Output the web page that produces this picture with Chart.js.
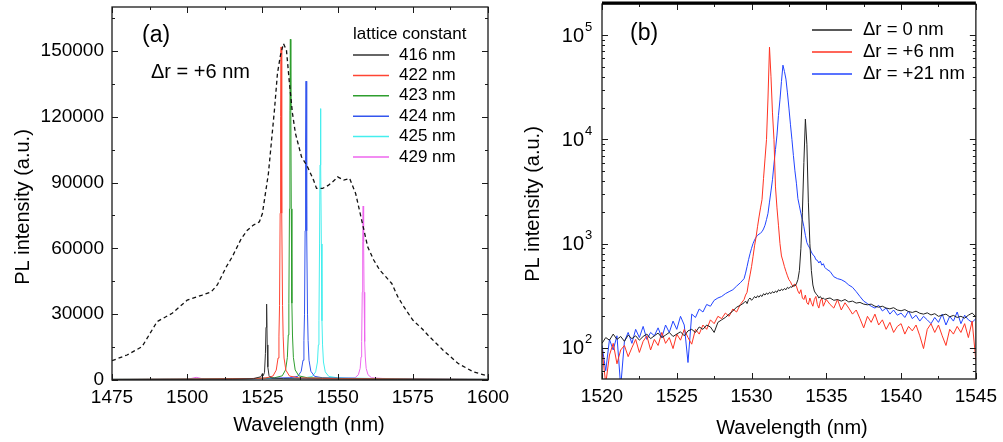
<!DOCTYPE html>
<html>
<head>
<meta charset="utf-8">
<script src="https://cdn.jsdelivr.net/npm/chart.js@4.4.1/dist/chart.umd.min.js"></script>
<style>
  body { margin: 0; background: #fff; }
  #wrap { position: relative; width: 1003px; height: 442px; }
  #chartA { position: absolute; left: 0; top: 0; }
  #chartB { position: absolute; left: 500px; top: 0; }
</style>
</head>
<body>
<div id="wrap">
  <canvas id="chartA" width="520" height="442"></canvas>
  <canvas id="chartB" width="503" height="442"></canvas>
</div>
<script>
// panel (a): broad PL spectrum (dashed) and cavity peaks for each lattice constant
const wlRef = [1475,1480,1485,1490,1495,1500,1505,1508,1510,1513,1515,1518,1520,1522,1524,1525,1527,1529,1530,1531,1532,1533,1534,1535,1536,1538,1540,1542,1543,1545,1547,1549,1550,1552,1554,1556,1558,1560,1562,1564,1566,1568,1570,1572,1575,1578,1580,1585,1590,1595,1600];
const plRef = [8800,11400,15200,26600,30400,36400,38700,40200,43300,51600,56200,64500,68300,70600,72100,75900,94100,123000,139700,148000,153300,150300,135100,121500,112300,101700,97200,91100,87300,87300,88800,91100,92600,91100,91900,85000,72900,60700,54700,50100,47100,44000,38000,33400,27300,23500,20500,13700,7600,3800,1800];

const wl416 = [1475,1500,1515,1522,1524.5,1525.0,1525.3,1525.7,1526.0,1526.2,1526.4,1526.6,1526.8,1527.2,1528,1532,1545,1570,1600];
const pl416 = [200,300,400,600,1500,3000,2000,3500,12000,24000,34600,16000,6000,2000,900,600,400,300,200];
const wl422 = [1475,1500,1520,1526,1528.5,1529.6,1530.2,1530.5,1530.7,1530.9,1531.05,1531.2,1531.35,1531.5,1531.7,1531.9,1532.2,1532.8,1534,1537,1550,1575,1600];
const pl422 = [300,400,600,900,1800,4500,10000,20000,34000,76000,120000,151800,120000,76000,34000,20000,10000,4500,1800,1000,600,400,300];
const wl423 = [1475,1500,1520,1529,1531.6,1532.7,1533.3,1533.6,1533.8,1534.0,1534.15,1534.3,1534.45,1534.6,1534.8,1535.0,1535.3,1535.9,1537.1,1540,1555,1575,1600];
const pl423 = [300,400,600,1000,1900,4600,10300,20500,35000,78000,123000,155300,123000,78000,35000,20500,10300,4600,1900,1000,600,400,300];
const wl424 = [1475,1500,1525,1534,1536.8,1537.9,1538.5,1538.8,1539.0,1539.2,1539.35,1539.5,1539.65,1539.8,1540.0,1540.2,1540.5,1541.1,1542.3,1545,1560,1580,1600];
const pl424 = [300,400,600,1000,1700,4000,9000,18000,30000,68000,108000,136200,108000,68000,30000,18000,9000,4000,1700,1000,600,400,300];
const wl425 = [1475,1500,1530,1539,1541.6,1542.7,1543.3,1543.6,1543.8,1544.0,1544.15,1544.3,1544.45,1544.6,1544.8,1545.0,1545.3,1545.9,1547.1,1550,1565,1585,1600];
const pl425 = [300,400,700,1000,1600,3700,8200,16000,27000,62000,98000,123700,98000,62000,27000,16000,8200,3700,1600,1000,600,400,300];
const wl429 = [1475,1500,1503,1506,1530,1550,1555.8,1556.9,1557.5,1557.8,1558.0,1558.2,1558.35,1558.5,1558.65,1558.8,1559.0,1559.2,1559.5,1560.1,1561.3,1565,1580,1600];
const pl429 = [200,300,1200,300,900,800,1000,2400,5300,10500,17500,40000,63000,79300,63000,40000,17500,10500,5300,2400,1000,700,400,200];

const xTicksA = [1475, 1500, 1525, 1550, 1575, 1600];
const xMinorA = [1487.5, 1512.5, 1537.5, 1562.5, 1587.5];
const yTicksA = [0, 30000, 60000, 90000, 120000, 150000];
const yMinorA = [15000, 45000, 75000, 105000, 135000, 165000];

// panel (b): log-scale spectra for three hole-radius shifts
const wlB = [1520,1520.25,1520.5,1520.75,1521,1521.25,1521.5,1521.75,1522,1522.25,1522.5,1522.75,1523,1523.25,1523.5,1523.75,1524,1524.25,1524.5,1524.75,1525,1525.25,1525.5,1525.75,1526,1526.25,1526.5,1526.75,1527,1527.25,1527.5,1527.75,1528,1528.25,1528.5,1528.75,1529,1529.25,
  1529.5,1529.6,1529.7,1529.8,1529.9,1530,1530.1,1530.2,1530.3,1530.4,1530.5,1530.6,1530.7,1530.8,1530.9,1531,1531.1,1531.2,1531.3,1531.4,1531.5,1531.6,1531.7,1531.8,1531.9,1532,1532.1,1532.2,1532.3,1532.4,1532.5,1532.6,1532.7,1532.8,1532.9,1533,1533.1,1533.2,1533.3,1533.4,1533.5,1533.6,1533.7,1533.8,1533.9,1534,1534.1,1534.2,1534.3,1534.4,1534.5,1534.6,1534.7,1534.8,1534.9,1535,
  1535.25,1535.5,1535.75,1536,1536.25,1536.5,1536.75,1537,1537.25,1537.5,1537.75,1538,1538.25,1538.5,1538.75,1539,1539.25,1539.5,1539.75,1540,1540.25,1540.5,1540.75,1541,1541.25,1541.5,1541.75,1542,1542.25,1542.5,1542.75,1543,1543.25,1543.5,1543.75,1544,1544.25,1544.5,1544.75,1545];
const plB0 = [110,125,118,135,120,128,115,132,122,130,118,128,135,122,130,138,125,132,140,128,135,142,130,145,150,140,158,150,165,158,140,175,185,195,210,225,245,255,
  270,280,265,290,300,285,295,310,300,315,305,320,310,330,320,335,325,340,330,345,335,350,340,360,350,365,355,370,360,380,370,385,380,400,390,410,450,550,900,2000,6000,15700,9000,2500,1000,550,400,350,330,320,300,310,295,300,290,295,
  300,285,290,280,290,275,280,268,272,262,258,262,250,245,250,240,236,242,230,226,232,222,218,224,214,210,216,206,212,200,205,210,198,204,195,200,192,205,215,198];
const plB6 = [95,45,85,110,70,95,105,82,100,120,90,115,130,95,120,105,140,110,125,98,135,118,150,125,108,150,135,165,150,185,170,200,190,215,200,235,220,260,
  290,320,340,420,500,600,750,950,1150,1450,1800,2200,2640,4200,6500,10000,25000,77000,40000,18000,10000,3500,2200,1500,1000,760,680,600,540,490,450,430,400,385,410,390,350,330,360,300,290,320,270,260,300,270,250,290,310,260,240,280,300,250,270,290,
  260,240,290,230,270,240,210,230,190,155,200,175,210,165,185,150,175,140,160,170,135,160,145,165,130,98,150,170,140,165,130,105,150,135,160,140,170,125,180,75];
const plB21 = [105,60,120,95,130,42,115,140,110,150,125,160,120,140,130,155,125,165,140,180,150,200,165,72,210,195,235,220,260,250,285,300,310,330,345,360,390,420,
  460,520,600,700,800,900,1000,1080,1150,1200,1230,1260,1300,1380,1500,1700,1950,2500,3200,4100,5800,8000,11000,17000,24000,36000,51700,45000,38000,28000,20000,14000,10000,7000,5000,3800,2700,2300,1950,1700,1450,1200,1020,950,900,830,780,760,700,690,650,680,620,640,590,570,
  540,480,460,450,430,400,380,345,310,280,265,250,240,255,225,240,210,230,205,215,195,225,190,205,180,200,185,170,195,175,210,165,200,180,220,170,205,185,175,190];

const xTicksB = [1520, 1525, 1530, 1535, 1540, 1545];
const xMinorB = [1522.5, 1527.5, 1532.5, 1537.5, 1542.5];
const yTicksB = [100, 1000, 10000, 100000];
const yMinorB = [60,70,80,90,200,300,400,500,600,700,800,900,2000,3000,4000,5000,6000,7000,8000,9000,20000,30000,40000,50000,60000,70000,80000,90000];

const FONT = "'Liberation Sans', Arial, sans-serif";
Chart.defaults.font.family = FONT;
Chart.defaults.color = '#000';

function pts(xs, ys) {
  return xs.map((x, i) => ({ x: x, y: ys[i] }));
}

// frame with inward ticks on all four sides
const frame = {
  id: 'frame',
  afterDatasetsDraw(chart, args, o) {
    const { ctx, chartArea: a } = chart;
    const sx = chart.scales.x, sy = chart.scales.y;
    ctx.save();
    ctx.strokeStyle = '#1a1a1a';
    ctx.lineWidth = 1;
    ctx.beginPath();
    const seg = (x1, y1, x2, y2) => { ctx.moveTo(x1, y1); ctx.lineTo(x2, y2); };
    const xt = (vals, len) => vals.forEach(v => {
      const p = Math.round(sx.getPixelForValue(v)) + 0.5;
      seg(p, a.bottom, p, a.bottom - len);
      seg(p, a.top, p, a.top + len);
    });
    const yt = (vals, len) => vals.forEach(v => {
      const p = Math.round(sy.getPixelForValue(v)) + 0.5;
      seg(a.left, p, a.left + len, p);
      seg(a.right, p, a.right - len, p);
    });
    xt(o.xMajor, 6); xt(o.xMinor, 3);
    yt(o.yMajor, 6); yt(o.yMinor, 3);
    ctx.stroke();
    ctx.lineWidth = 1.3;
    ctx.strokeRect(a.left, a.top, a.right - a.left, a.bottom - a.top);
    if (o.topWidth) {
      ctx.lineWidth = o.topWidth;
      ctx.strokeStyle = '#000';
      ctx.beginPath();
      seg(a.left, a.top - 1, a.right, a.top - 1);
      ctx.stroke();
    }
    ctx.restore();
  }
};

// annotations, axis titles, legend drawn inside the plot, log tick labels
const notes = {
  id: 'notes',
  afterDraw(chart, args, o) {
    const ctx = chart.ctx;
    ctx.save();
    ctx.fillStyle = '#000';
    ctx.textBaseline = 'middle';
    (o.texts || []).forEach(t => {
      ctx.save();
      ctx.font = t.size + 'px ' + FONT;
      ctx.textAlign = t.align || 'left';
      ctx.translate(t.x, t.y);
      if (t.rot) ctx.rotate(t.rot);
      ctx.fillText(t.text, 0, 0);
      ctx.restore();
    });
    const lg = o.legend;
    if (lg) {
      ctx.font = lg.size + 'px ' + FONT;
      ctx.textAlign = 'left';
      if (lg.title) ctx.fillText(lg.title, lg.x, lg.titleY);
      let y = lg.y;
      chart.data.datasets.forEach(ds => {
        if (!ds.inLegend) return;
        ctx.strokeStyle = ds.borderColor;
        ctx.lineWidth = 1.5;
        ctx.beginPath();
        ctx.moveTo(lg.x, y);
        ctx.lineTo(lg.x + lg.len, y);
        ctx.stroke();
        ctx.fillText(ds.label, lg.x + lg.len + lg.gap, y);
        y += lg.dy;
      });
    }
    if (o.logTicks) {
      const sy = chart.scales.y;
      const xr = chart.chartArea.left - 18;
      o.logTicks.forEach(v => {
        const p = sy.getPixelForValue(v);
        ctx.font = '20px ' + FONT;
        ctx.textAlign = 'right';
        ctx.fillText('10', xr, p + 1);
        ctx.font = '13px ' + FONT;
        ctx.textAlign = 'left';
        ctx.fillText(String(Math.round(Math.log10(v))), xr + 1, p - 8);
      });
    }
    ctx.restore();
  }
};

function lineSet(label, xs, ys, color, extra) {
  return Object.assign({
    label: label,
    data: pts(xs, ys),
    borderColor: color,
    borderWidth: 1,
    pointRadius: 0,
    tension: 0,
    fill: false,
    inLegend: true
  }, extra || {});
}

new Chart(document.getElementById('chartA'), {
  type: 'line',
  data: {
    datasets: [
      lineSet('reference', wlRef, plRef, '#111', { borderDash: [4, 3], borderWidth: 1.3, inLegend: false }),
      lineSet('416 nm', wl416, pl416, '#333333'),
      lineSet('422 nm', wl422, pl422, '#ff4433'),
      lineSet('423 nm', wl423, pl423, '#2e9e2e'),
      lineSet('424 nm', wl424, pl424, '#3355ee'),
      lineSet('425 nm', wl425, pl425, '#44eeee'),
      lineSet('429 nm', wl429, pl429, '#ee66ee')
    ]
  },
  options: {
    responsive: false,
    animation: false,
    layout: { padding: { left: 0, right: 32, top: 7, bottom: 0 } },
    scales: {
      x: {
        type: 'linear',
        min: 1475,
        max: 1600,
        grid: { display: false, drawTicks: false },
        border: { display: false },
        afterBuildTicks: s => { s.ticks = xTicksA.map(v => ({ value: v })); },
        afterFit: s => { s.height = 62; },
        ticks: { font: { size: 19 }, padding: 6, maxRotation: 0, autoSkip: false, callback: v => String(v) }
      },
      y: {
        type: 'linear',
        min: 0,
        max: 170000,
        grid: { display: false, drawTicks: false },
        border: { display: false },
        afterBuildTicks: s => { s.ticks = yTicksA.map(v => ({ value: v })); },
        afterFit: s => { s.width = 112; s.paddingTop = 0; s.paddingBottom = 0; },
        ticks: { font: { size: 19 }, padding: 8, callback: v => String(v) }
      }
    },
    plugins: {
      legend: { display: false },
      tooltip: { enabled: false },
      frame: { xMajor: xTicksA, xMinor: xMinorA, yMajor: yTicksA, yMinor: yMinorA },
      notes: {
        texts: [
          { text: '(a)', x: 142, y: 36, size: 23 },
          { text: 'Δr = +6 nm', x: 151, y: 72, size: 20 },
          { text: 'Wavelength (nm)', x: 309, y: 425, size: 20, align: 'center' },
          { text: 'PL intensity (a.u.)', x: 23, y: 207, size: 20, align: 'center', rot: -Math.PI / 2 }
        ],
        legend: { title: 'lattice constant', titleY: 34, x: 353, y: 55, dy: 20.4, len: 36, gap: 10, size: 17 }
      }
    }
  },
  plugins: [frame, notes]
});

new Chart(document.getElementById('chartB'), {
  type: 'line',
  data: {
    datasets: [
      lineSet('Δr = 0 nm', wlB, plB0, '#222222'),
      lineSet('Δr = +6 nm', wlB, plB6, '#ff3322'),
      lineSet('Δr = +21 nm', wlB, plB21, '#2244ff')
    ]
  },
  options: {
    responsive: false,
    animation: false,
    layout: { padding: { left: 0, right: 24, top: 4, bottom: 0 } },
    scales: {
      x: {
        type: 'linear',
        min: 1520,
        max: 1545,
        grid: { display: false, drawTicks: false },
        border: { display: false },
        afterBuildTicks: s => { s.ticks = xTicksB.map(v => ({ value: v })); },
        afterFit: s => { s.height = 63; },
        ticks: { font: { size: 19 }, padding: 6, maxRotation: 0, autoSkip: false, callback: v => String(v) }
      },
      y: {
        type: 'logarithmic',
        min: 50,
        max: 200000,
        grid: { display: false, drawTicks: false },
        border: { display: false },
        afterBuildTicks: s => { s.ticks = yTicksB.map(v => ({ value: v })); },
        afterFit: s => { s.width = 102; s.paddingTop = 0; s.paddingBottom = 0; },
        ticks: { display: false }
      }
    },
    plugins: {
      legend: { display: false },
      tooltip: { enabled: false },
      frame: { xMajor: xTicksB, xMinor: xMinorB, yMajor: yTicksB, yMinor: yMinorB, topWidth: 3 },
      notes: {
        texts: [
          { text: '(b)', x: 130, y: 34, size: 23 },
          { text: 'Wavelength (nm)', x: 292, y: 428, size: 20, align: 'center' },
          { text: 'PL intensity (a.u.)', x: 33, y: 204, size: 20, align: 'center', rot: -Math.PI / 2 }
        ],
        legend: { x: 312, y: 30, dy: 22, len: 40, gap: 11, size: 18.5 },
        logTicks: yTicksB
      }
    }
  },
  plugins: [frame, notes]
});
</script>
</body>
</html>
